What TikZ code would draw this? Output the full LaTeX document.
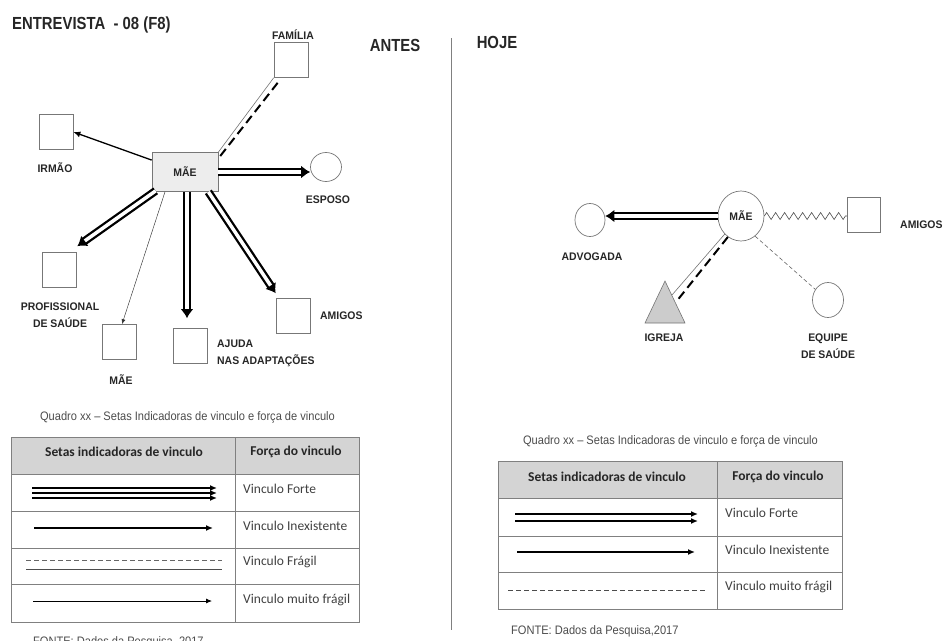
\documentclass[tikz,border=0pt]{standalone}
\usepackage{fontspec}
\setmainfont{Liberation Sans}
\newfontfamily\labf[FakeStretch=0.95]{Liberation Sans}
\newfontfamily\ttlf[FakeStretch=0.85]{Liberation Sans}
\newfontfamily\capf[FakeStretch=0.9]{Liberation Sans}
\newfontfamily\calf{Carlito}
\usetikzlibrary{arrows.meta,decorations.pathmorphing,shapes.geometric,calc}
\definecolor{edgegray}{HTML}{777777}
\definecolor{hdrgray}{HTML}{D4D4D4}
\definecolor{tblgray}{HTML}{808080}
\begin{document}
\begin{tikzpicture}[x=1pt,y=-1pt,
  sq/.style={draw=edgegray, line width=0.7pt, minimum width=34pt, minimum height=35pt, inner sep=0pt},
  circ/.style={draw=edgegray, line width=0.7pt, ellipse, minimum width=31pt, minimum height=33pt, inner sep=0pt},
  lbl/.style={font=\labf\bfseries\fontsize{11}{17}\selectfont, text=black!85, align=center, inner sep=0pt},
  ttl/.style={font=\ttlf\bfseries\fontsize{17.5}{19}\selectfont, text=black!85, inner sep=0pt},
  capt/.style={font=\capf\fontsize{12.3}{14}\selectfont, text=black!70, inner sep=0pt},
  hdr/.style={font=\calf\bfseries\fontsize{13.5}{15}\selectfont, text=black!85, inner sep=0pt},
  cell/.style={font=\calf\fontsize{13.5}{15}\selectfont, text=black!75, inner sep=0pt, anchor=west},
  strong/.style={line width=2.3pt, double=white, double distance=3.5pt, -{Latex[length=9pt,width=13pt]}},
  med/.style={line width=1.3pt, -{Latex[length=7pt,width=6pt]}},
  thinarr/.style={line width=0.45pt, draw=black!80, -{Latex[length=5pt,width=4pt]}},
  fragthin/.style={line width=0.6pt, draw=black!55},
  fragdash/.style={line width=2pt, dash pattern=on 9pt off 5pt},
  weak/.style={line width=0.6pt, draw=black!60, dash pattern=on 4pt off 2.5pt},
  tbl/.style={draw=tblgray, line width=1pt},
]
\useasboundingbox (0,0) rectangle (947,640);

% ---------- titles ----------
\node[ttl, anchor=west] (title) at (12,25) {ENTREVISTA\ \ - 08 (F8)};
\node[ttl] (antes) at (395,45) {ANTES};
\node[ttl] (hoje) at (497,42) {HOJE};
\draw[draw=black!50, line width=1pt] (451,38) -- (451,630);

% ---------- ANTES diagram ----------
\node[sq] (fam) at (291,60) {};
\node[lbl] (famL) at (293,35) {FAMÍLIA};
\node[sq] (irm) at (56,132) {};
\node[lbl] (irmL) at (55,168) {IRMÃO};
\node[draw=edgegray, line width=0.7pt, fill=black!7, minimum width=66pt, minimum height=39pt, lbl] (mae) at (185,172) {MÃE};
\node[circ, minimum height=29pt] (esp) at (326,167) {};
\node[lbl] (espL) at (328,200) {ESPOSO};
\node[sq] (prof) at (59,270) {};
\node[lbl] (profL) at (60,315) {PROFISSIONAL\\DE SAÚDE};
\node[sq] (maeb) at (119,342) {};
\node[lbl] (maebL) at (121,380) {MÃE};
\node[sq] (aju) at (190,346) {};
\node[lbl, align=left, anchor=west] (ajuL) at (217,353) {AJUDA\\NAS ADAPTAÇÕES};
\node[sq] (ami) at (293,316) {};
\node[lbl, anchor=west] (amiL) at (320,316) {AMIGOS};

\draw[med] (mae) -- (irm.east);
\draw[fragthin] (fam.south west) -- (mae.north east);
\draw[fragdash] ([xshift=4pt,yshift=-5pt]fam.south west) -- ([xshift=1pt,yshift=-5pt]mae.north east);
\draw[strong] (mae.east) -- (mae.east -| esp.west);
\draw[strong] ([xshift=4pt,yshift=1pt]mae.south west) -- ([xshift=1pt,yshift=6pt]prof.north east);
\draw[thinarr] ([xshift=-20pt]mae.south) -- ([xshift=3pt]maeb.north);
\draw[strong] ([xshift=2pt]mae.south) -- ([xshift=-3pt,yshift=10pt]aju.north);
\draw[strong] ([xshift=-10pt]mae.south east) -- ([yshift=5pt]ami.north west);

% ---------- ANTES legend ----------
\node[capt] (capL) at (187.5,417) {Quadro xx – Setas Indicadoras de vinculo e força de vinculo};
\fill[hdrgray] (11,437) rectangle (359,474);
\draw[tbl] (11,437) rectangle (359,622);
\draw[tbl] (235,437) -- (235,622);
\draw[tbl] (11,474) -- (359,474);
\draw[tbl] (11,511) -- (359,511);
\draw[tbl] (11,548) -- (359,548);
\draw[tbl] (11,584) -- (359,584);
\node[hdr] (hL1) at (124,452) {Setas indicadoras de vinculo};
\node[hdr] (hL2) at (296,452) {Força do vinculo};
\node[cell] (rL1) at (243,489) {Vinculo Forte};
\node[cell] (rL2) at (243,526) {Vinculo Inexistente};
\node[cell] (rL3) at (243,562) {Vinculo Frágil};
\node[cell] (rL4) at (243,600) {Vinculo muito frágil};
\foreach \yy in {488,493,498}
  \draw[line width=1.8pt, -{Latex[length=7pt,width=6pt]}] (32,\yy) -- (217,\yy);
\draw[line width=1.5pt, -{Latex[length=7pt,width=6pt]}] (34,528) -- (213,528);
\draw[line width=0.5pt, draw=black!60, dash pattern=on 5pt off 3pt] (26,560) -- (222,560);
\draw[line width=0.8pt, draw=black!70] (26,569) -- (222,569);
\draw[line width=0.8pt, -{Latex[length=6pt,width=5pt]}] (33,601) -- (212,601);
\node[capt, anchor=west] (fonteL) at (33,642) {FONTE: Dados da Pesquisa, 2017};

% ---------- HOJE diagram ----------
\node[circ, minimum width=46pt, minimum height=50pt, lbl] (maeh) at (741,216) {MÃE};
\node[circ, minimum width=30pt, minimum height=33pt] (adv) at (590,220) {};
\node[lbl] (advL) at (592,257) {ADVOGADA};
\node[sq, minimum width=33pt] (amih) at (864,215) {};
\node[lbl, anchor=west] (amihL) at (900,225) {AMIGOS};
\filldraw[fill=black!20, draw=black!55, line width=0.6pt] (665,281) -- (685,323) -- (645,323) -- cycle;
\coordinate (igrA) at (672,295);
\coordinate (igrB) at (676,302);
\node[lbl] (igrL) at (664,338) {IGREJA};
\node[circ, minimum width=31pt, minimum height=35pt] (equ) at (828,300) {};
\node[lbl] (equL) at (828,346) {EQUIPE\\DE SAÚDE};

\draw[strong] (maeh.west) -- (maeh.west -| adv.east);
\draw[line width=0.6pt, draw=black!70, decorate, decoration={zigzag, amplitude=3.5pt, segment length=9pt}] (maeh.east) -- (maeh.east -| amih.west);
\draw[fragthin] (maeh.228) -- (igrA);
\draw[fragdash] (maeh.238) -- (igrB);
\draw[weak] (maeh.305) -- (equ.140);

% ---------- HOJE legend ----------
\node[capt] (capR) at (670.5,441) {Quadro xx – Setas Indicadoras de vinculo e força de vinculo};
\fill[hdrgray] (498,461) rectangle (842,498);
\draw[tbl] (498,461) rectangle (842,609);
\draw[tbl] (717,461) -- (717,609);
\draw[tbl] (498,498) -- (842,498);
\draw[tbl] (498,536) -- (842,536);
\draw[tbl] (498,572) -- (842,572);
\node[hdr] (hR1) at (607,477) {Setas indicadoras de vinculo};
\node[hdr] (hR2) at (778,477) {Força do vinculo};
\node[cell] (rR1) at (725,513) {Vinculo Forte};
\node[cell] (rR2) at (725,550) {Vinculo Inexistente};
\node[cell] (rR3) at (725,587) {Vinculo muito frágil};
\foreach \yy in {514,521}
  \draw[line width=2pt, -{Latex[length=7pt,width=6pt]}] (515,\yy) -- (698,\yy);
\draw[line width=1.5pt, -{Latex[length=7pt,width=6pt]}] (517,552) -- (695,552);
\draw[line width=0.6pt, draw=black!70, dash pattern=on 5pt off 3pt] (508,590) -- (705,590);
\node[capt, anchor=west] (fonteR) at (511,631) {FONTE: Dados da Pesquisa,2017};
\end{tikzpicture}
\end{document}
